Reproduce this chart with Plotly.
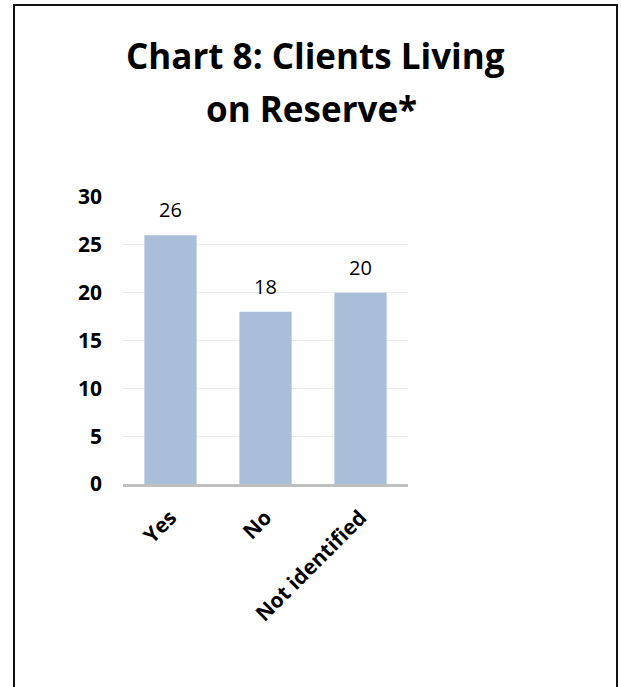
import plotly.graph_objects as go

categories = ["Yes", "No", "Not identified"]
clients = [26, 18, 20]
y_ticks = [0, 5, 10, 15, 20, 25, 30]

W, H = 621, 687
L, R, T, B = 123, 408, 197, 484  # plot area edges in pixels


def px_x(x):
    return (x - L) / (R - L)


def px_y(y):
    return (B - y) / (B - T)


fig = go.Figure(
    go.Bar(
        x=categories,
        y=clients,
        marker=dict(color="#A9BED9", line=dict(width=0)),
        width=0.55,
    )
)

# value labels above each bar
value_labels = [
    dict(
        x=c,
        y=v,
        xref="x",
        yref="y",
        text=str(v),
        showarrow=False,
        xanchor="center",
        yanchor="bottom",
        yshift=10,
        font=dict(family="Open Sans", size=20, color="#000000"),
    )
    for c, v in zip(categories, clients)
]

title_lines = [
    dict(
        text="Chart 8: Clients Living",
        xref="paper",
        yref="paper",
        x=px_x(315),
        y=px_y(55),
        xanchor="center",
        yanchor="middle",
        showarrow=False,
        font=dict(family="Open Sans", size=35, color="#000000", weight="bold"),
    ),
    dict(
        text="on Reserve*",
        xref="paper",
        yref="paper",
        x=px_x(311),
        y=px_y(108),
        xanchor="center",
        yanchor="middle",
        showarrow=False,
        font=dict(family="Open Sans", size=35, color="#000000", weight="bold"),
    ),
]

fig.update_layout(
    width=W,
    height=H,
    margin=dict(l=L, r=W - R, t=T, b=H - B, pad=0),
    paper_bgcolor="white",
    plot_bgcolor="white",
    showlegend=False,
    font=dict(family="Open Sans", color="#000000"),
    xaxis=dict(
        tickangle=-45,
        tickfont=dict(family="Open Sans", size=21, color="#000000", weight="bold"),
        showline=True,
        linecolor="#BFBFBF",
        linewidth=3,
        showgrid=False,
        ticks="",
        ticklabelstandoff=10,
    ),
    yaxis=dict(
        range=[0, 30],
        tickvals=y_ticks,
        tickfont=dict(family="Open Sans", size=21, color="#000000", weight="bold"),
        showgrid=True,
        gridcolor="#EBEBEB",
        gridwidth=1,
        zeroline=False,
        showline=False,
        ticks="",
        ticklabelstandoff=20,
    ),
    shapes=[
        dict(
            type="rect",
            xref="paper",
            yref="paper",
            x0=px_x(14),
            x1=px_x(617),
            y0=px_y(700),
            y1=px_y(5),
            line=dict(color="#111111", width=2),
            fillcolor="rgba(0,0,0,0)",
            layer="above",
        )
    ],
    annotations=value_labels + title_lines,
)

fig.write_html("out.html")
